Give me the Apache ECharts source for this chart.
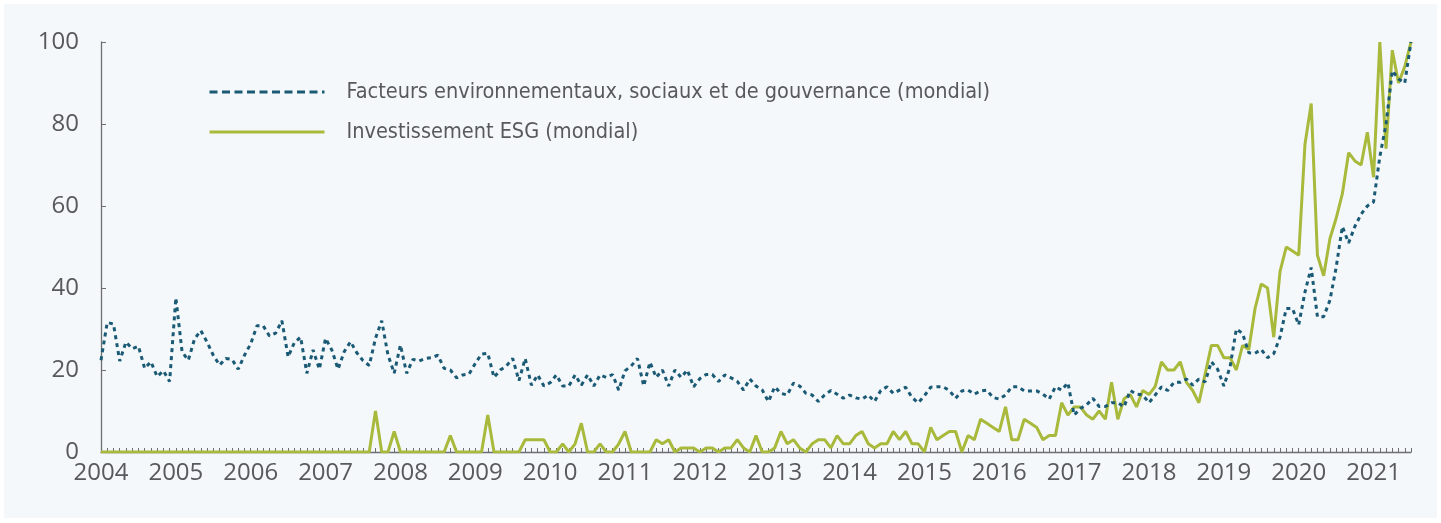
<!DOCTYPE html>
<html>
<head>
<meta charset="utf-8">
<script src="https://cdn.jsdelivr.net/npm/echarts@6/dist/echarts.min.js"></script>
<style>
  html, body { margin: 0; padding: 0; background: #ffffff; }
  #bg { position: absolute; left: 4px; top: 4px; width: 1433px; height: 514px; background: #f4f8fb; }
  #chart { position: absolute; left: 0; top: 0; width: 1441px; height: 523px; }
</style>
</head>
<body>
<div id="bg"></div>
<div id="chart"></div>
<script>
// Year tick labels (one category per month, Jan 2004 .. Jul 2021)
const years = ['2004','2005','2006','2007','2008','2009','2010','2011','2012','2013','2014','2015','2016','2017','2018','2019','2020','2021'];
const lastYearMonths = 7;

const seriesNames = ['Facteurs environnementaux, sociaux et de gouvernance (mondial)', 'Investissement ESG (mondial)'];

// Facteurs ESG (mondial) – monthly index
const esgFactors = [
  22.4,31.6,31.2,22.2,26.8,25.2,25.8,20.4,22,18.4,19.8,17.2,
  37.6,24.4,22.4,27.6,29.6,26.8,23.6,21.2,22.8,22.6,20.2,23.6,
  26.4,30.8,30.8,28.3,29,32,23.2,26.7,28,19.2,24.9,20.2,
  27.7,24.9,20.2,24.5,26.9,24.2,22.3,21.1,27.7,32,23.7,19.2,
  26.1,19.2,22.6,22.2,22.8,23,23.6,20.4,20,18.1,18.8,19,
  21.6,23.9,24.1,18.2,20,21,22.8,17.4,22.8,16.3,18.8,16.1,
  16.9,18.8,16.1,16.1,18.8,16.3,18.8,16.1,18.8,18.2,18.9,15.1,
  19.8,21,22.8,16.1,21.9,18.2,20,16.1,20,18.2,20,15.9,
  17.9,18.9,18.9,17.2,18.8,18.1,17.2,15.1,17.8,16.1,15.1,12.3,
  15.9,14.3,13.9,16.8,16.1,14.3,13.9,12.3,13.9,15,14.1,13.1,
  13.9,13.2,12.9,13.9,12.3,15,15.9,14.3,15.1,15.8,13.3,12,
  13.7,15.8,15.9,15.9,15,13.1,14.9,15.1,14.1,14.9,15.1,13.3,
  12.9,13.9,15.9,15.9,14.9,14.9,14.9,14.1,12.9,15.9,15.1,16.9,
  9,10.6,11.5,13.1,11.1,11.1,12,12,11,15,14.1,13.9,
  12,13.9,15.9,15,17,17,17.8,16.3,17.8,17.1,22,20.2,
  16.1,20.8,30,28.9,24.2,24.1,25,23,24,28,35,35,
  31,39,45,33,33,37,45,55,51,55,58,60,
  61,72,80,93,91,90,100
];

// Investissement ESG (mondial) – monthly index
const esgInvesting = [
  0,0,0,0,0,0,0,0,0,0,0,0,
  0,0,0,0,0,0,0,0,0,0,0,0,
  0,0,0,0,0,0,0,0,0,0,0,0,
  0,0,0,0,0,0,0,0,10,0,0,5,
  0,0,0,0,0,0,0,0,4,0,0,0,
  0,0,9,0,0,0,0,0,3,3,3,3,
  0,0,2,0,2,7,0,0,2,0,0,2,
  5,0,0,0,0,3,2,3,0,1,1,1,
  0,1,1,0,1,1,3,1,0,4,0,0,
  1,5,2,3,1,0,2,3,3,1,4,2,
  2,4,5,2,1,2,2,5,3,5,2,2,
  0,6,3,4,5,5,0,4,3,8,7,6,
  5,11,3,3,8,7,6,3,4,4,12,9,
  11,11,9,8,10,8,17,8,13,14,11,15,
  14,16,22,20,20,22,17,15,12,19,26,26,
  23,23,20,26,25,35,41,40,28,44,50,49,
  48,75,85,48,43,52,57,63,73,71,70,78,
  67,100,74,98,90,94,100
];

const months = [];
years.forEach((y, i) => {
  const n = (i === years.length - 1) ? lastYearMonths : 12;
  for (let m = 1; m <= n; m++) months.push(y + '-' + (m < 10 ? '0' + m : m));
});

const axisColor = '#6d6e71';
const textColor = '#58595b';
const dashColor = '#1b5a75';
const greenColor = '#a9b93b';

const chart = echarts.init(document.getElementById('chart'), null, { renderer: 'canvas' });
chart.setOption({
  backgroundColor: 'transparent',
  animation: false,
  grid: { left: 101, right: 30, top: 42, bottom: 71, containLabel: false },
  legend: {
    show: true,
    left: 203, top: 76, orient: 'vertical',
    itemWidth: 115, itemHeight: 14, itemGap: 18,
    itemStyle: { opacity: 0 },
    textStyle: { fontFamily: "DejaVu Sans Condensed, sans-serif", fontSize: 21.5, color: textColor, padding: [0, 0, 0, 17] },
    data: [
      { name: seriesNames[0], lineStyle: { type: [8, 4.5], width: 3, color: dashColor } },
      { name: seriesNames[1], lineStyle: { width: 3, color: greenColor } }
    ]
  },
  xAxis: {
    type: 'category', data: months, boundaryGap: false,
    axisLine: { lineStyle: { color: axisColor, width: 1.3 } },
    axisTick: { show: true, inside: true, interval: 0, length: 4, lineStyle: { color: axisColor } },
    axisLabel: {
      interval: (idx) => idx % 12 === 0,
      formatter: (v) => v.slice(0, 4),
      fontFamily: "Open Sans, sans-serif", fontSize: 24, color: textColor, margin: 9
    },
    splitLine: { show: false }
  },
  yAxis: {
    type: 'value', min: 0, max: 100, interval: 20,
    axisLine: { show: true, lineStyle: { color: axisColor, width: 1.3 } },
    axisTick: { show: true, inside: true, length: 5, lineStyle: { color: axisColor } },
    axisLabel: { fontFamily: "Open Sans, sans-serif", fontSize: 24, color: textColor, margin: 22 },
    splitLine: { show: false }
  },
  series: [
    {
      name: seriesNames[0], type: 'line', data: esgFactors, symbol: 'none', showSymbol: false, z: 3,
      lineStyle: { color: dashColor, width: 3, type: [4, 4] },
      itemStyle: { color: dashColor }
    },
    {
      name: seriesNames[1], type: 'line', data: esgInvesting, symbol: 'none', showSymbol: false, z: 2,
      lineStyle: { color: greenColor, width: 3 },
      itemStyle: { color: greenColor }
    }
  ]
});
</script>
</body>
</html>
